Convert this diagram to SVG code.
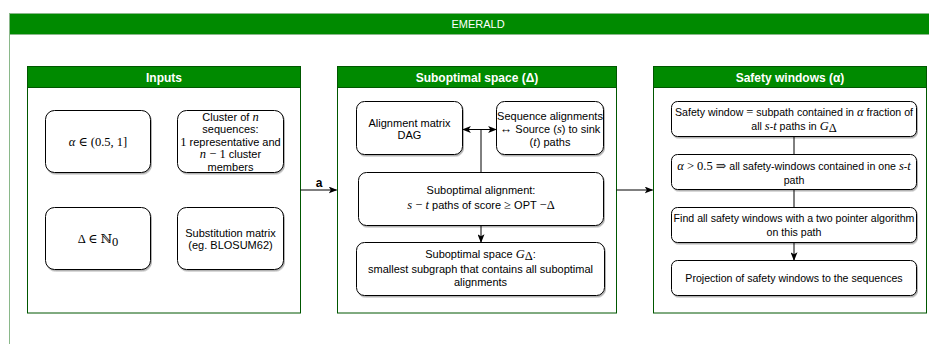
<svg xmlns="http://www.w3.org/2000/svg" width="929" height="344" viewBox="0 0 929 344">
<style>
.frame{fill:#fff;stroke:#8ab88a;stroke-width:1}
.ohead{fill:#008a00;stroke:#8ab88a;stroke-width:1}
.cont{fill:#fff;stroke:#005700;stroke-width:1}
.chead{fill:#008a00;stroke:#005700;stroke-width:1}
.node{fill:#fff;stroke:#000;stroke-width:1;filter:url(#sh)}
.t{font-family:"Liberation Sans",Arial,sans-serif;font-size:11px;fill:#000;text-anchor:middle}
.ts{font-size:10.6px}
.h{font-family:"Liberation Sans",Arial,sans-serif;font-size:12px;font-weight:bold;fill:#fff;text-anchor:middle}
.m{font-family:"Liberation Serif","DejaVu Serif",serif;font-size:12.5px}
.mi{font-family:"Liberation Serif","DejaVu Serif",serif;font-style:italic;font-size:12.5px}
.edge{fill:none;stroke:#000;stroke-width:1}
</style>
<defs>
<filter id="sh" x="-10%" y="-10%" width="130%" height="140%">
<feDropShadow dx="1" dy="1.5" stdDeviation="0.7" flood-color="#000" flood-opacity="0.3"/>
</filter>
<marker id="arr" viewBox="0 0 10 8" refX="9" refY="4" markerWidth="9" markerHeight="7" orient="auto-start-reverse" markerUnits="userSpaceOnUse">
<path d="M0,0 L10,4 L0,8 L2.5,4 z" fill="#000"/>
</marker>
</defs>

<g id="emerald">
<rect class="frame" x="9.5" y="13.5" width="940" height="345"/>
<rect class="ohead" x="9.5" y="13.5" width="940" height="21"/>
<text x="478" y="28" class="t" style="fill:#fff">EMERALD</text>
</g>

<g id="inputs">
<rect class="cont" x="27.5" y="66.5" width="273" height="246.5"/>
<rect class="chead" x="27.5" y="66.5" width="273" height="21"/>
<text x="164" y="81.5" class="h">Inputs</text>
</g>
<g id="subopt">
<rect class="cont" x="337.5" y="66.5" width="279" height="246.5"/>
<rect class="chead" x="337.5" y="66.5" width="279" height="21"/>
<text x="477" y="81.5" class="h">Suboptimal space (Δ)</text>
</g>
<g id="safety">
<rect class="cont" x="653.5" y="66.5" width="273" height="246.5"/>
<rect class="chead" x="653.5" y="66.5" width="273" height="21"/>
<text x="790" y="81.5" class="h">Safety windows (α)</text>
</g>

<g id="n-alpha">
<rect class="node" x="45.5" y="110.5" width="105" height="62" rx="9"/>
<text x="98" y="146" class="t"><tspan class="mi" font-size="13.5">α</tspan><tspan class="m" font-size="13.5"> ∈ (0.5, 1]</tspan></text>
</g>
<g id="n-cluster">
<rect class="node" x="177.5" y="110.5" width="106" height="62" rx="9"/>
<text class="t"><tspan x="230.5" y="120.5">Cluster of <tspan class="mi">n</tspan></tspan><tspan x="230.5" y="133">sequences:</tspan><tspan x="230.5" y="145.5"><tspan class="m">1</tspan> representative and</tspan><tspan x="230.5" y="158"><tspan class="mi">n</tspan><tspan class="m"> − 1</tspan> cluster</tspan><tspan x="230.5" y="170.5">members</tspan></text>
</g>
<g id="n-delta">
<rect class="node" x="45.5" y="207.5" width="105" height="62" rx="9"/>
<text x="98" y="243" class="t"><tspan class="m" font-size="13.5">Δ ∈ ℕ</tspan><tspan class="m" font-size="8.5" dy="2.5">0</tspan></text>
</g>
<g id="n-subst">
<rect class="node" x="177.5" y="207.5" width="106" height="62" rx="9"/>
<text class="t"><tspan x="230.5" y="236.5">Substitution matrix</tspan><tspan x="230.5" y="249">(eg. BLOSUM62)</tspan></text>
</g>

<g id="n-dag">
<rect class="node" x="356.5" y="101.5" width="106" height="53" rx="8"/>
<text class="t"><tspan x="409.5" y="126.5">Alignment matrix</tspan><tspan x="409.5" y="139">DAG</tspan></text>
</g>
<g id="n-seqal">
<rect class="node" x="496.5" y="101.5" width="107" height="53" rx="8"/>
<text class="t"><tspan x="550" y="119.5">Sequence alignments</tspan><tspan x="550" y="132.5"><tspan class="m">↔</tspan> Source (<tspan class="mi">s</tspan>) to sink</tspan><tspan x="550" y="145.5">(<tspan class="mi">t</tspan>) paths</tspan></text>
</g>
<g id="n-subal">
<rect class="node" x="358.5" y="172.5" width="245" height="53" rx="8"/>
<text class="t"><tspan x="481" y="194">Suboptimal alignment:</tspan><tspan x="481" y="209"><tspan class="mi">s</tspan><tspan class="m"> − </tspan><tspan class="mi">t</tspan> paths of score <tspan class="m">≥</tspan> OPT <tspan class="m" font-size="15">−Δ</tspan></tspan></text>
</g>
<g id="n-subspace">
<rect class="node" x="356.5" y="242.5" width="248" height="53" rx="8"/>
<text class="t"><tspan x="480.5" y="258">Suboptimal space <tspan class="mi">G</tspan><tspan class="m" font-size="8" dy="2">Δ</tspan><tspan dy="-2">:</tspan></tspan><tspan x="480.5" y="273">smallest subgraph that contains all suboptimal</tspan><tspan x="480.5" y="285.5">alignments</tspan></text>
</g>

<g id="n-sw1">
<rect class="node" x="671.5" y="101.5" width="245" height="35" rx="6"/>
<text class="t ts"><tspan x="794" y="115.5">Safety window <tspan class="m">=</tspan> subpath contained in <tspan class="mi">α</tspan> fraction of</tspan><tspan x="794" y="129.5">all <tspan class="mi">s</tspan>-<tspan class="mi">t</tspan> paths in <tspan class="mi">G</tspan><tspan class="m" font-size="8" dy="2">Δ</tspan></tspan></text>
</g>
<g id="n-sw2">
<rect class="node" x="671.5" y="154.5" width="245" height="35" rx="6"/>
<text class="t ts"><tspan x="794" y="169.5"><tspan class="mi">α</tspan><tspan class="m"> &gt; 0.5 ⇒</tspan> all safety-windows contained in one <tspan class="mi">s</tspan>-<tspan class="mi">t</tspan></tspan><tspan x="794" y="183.5">path</tspan></text>
</g>
<g id="n-sw3">
<rect class="node" x="671.5" y="207.5" width="245" height="35" rx="6"/>
<text class="t ts"><tspan x="794" y="222">Find all safety windows with a two pointer algorithm</tspan><tspan x="794" y="236">on this path</tspan></text>
</g>
<g id="n-sw4">
<rect class="node" x="671.5" y="260.5" width="245" height="35" rx="6"/>
<text x="794" y="282" class="t ts">Projection of safety windows to the sequences</text>
</g>

<g id="connectors">
<path class="edge" d="M300.5,190 H336.5" marker-end="url(#arr)"/>
<text x="319" y="187" class="t" style="font-weight:bold;font-size:12px">a</text>
<path class="edge" d="M616.5,190 H652.5" marker-end="url(#arr)"/>
<path class="edge" d="M481,172.5 V129.5 H463" marker-end="url(#arr)"/>
<path class="edge" d="M481,129.5 H496" marker-end="url(#arr)"/>
<path class="edge" d="M481,225.5 V242" marker-end="url(#arr)"/>
<path class="edge" d="M794,136.5 V154.5"/>
<path class="edge" d="M794,189.5 V207.5"/>
<path class="edge" d="M794,242.5 V260" marker-end="url(#arr)"/>
</g>
</svg>
